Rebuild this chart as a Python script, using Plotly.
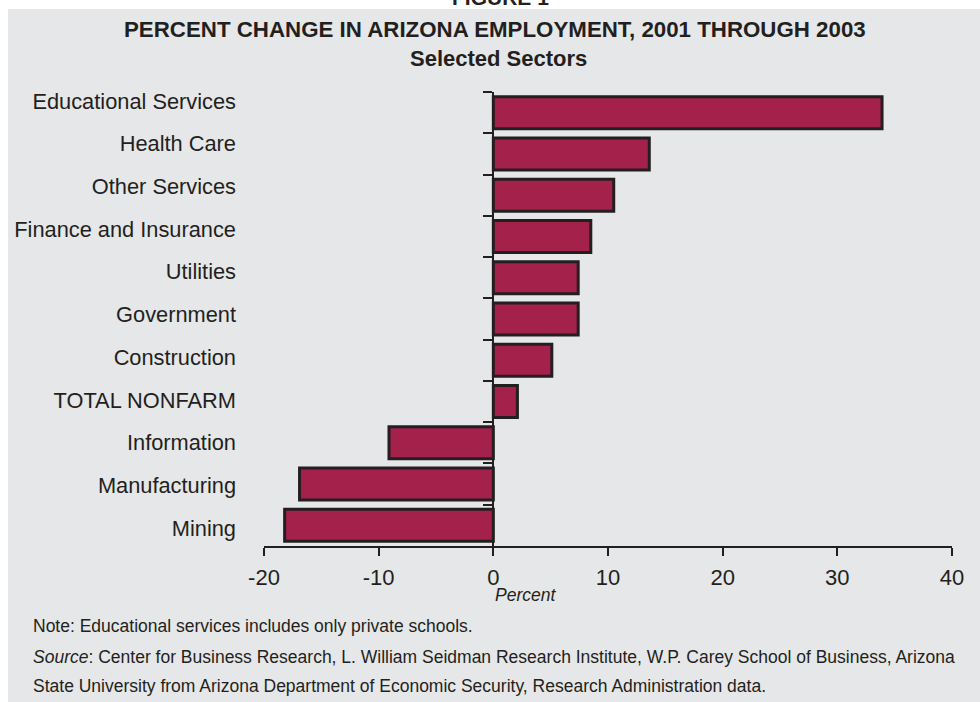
import plotly.graph_objects as go

categories = ["Educational Services", "Health Care", "Other Services", "Finance and Insurance",
              "Utilities", "Government", "Construction", "TOTAL NONFARM", "Information",
              "Manufacturing", "Mining"]
values = [33.9, 13.6, 10.5, 8.5, 7.4, 7.4, 5.1, 2.1, -9.1, -16.9, -18.2]
x_ticks = [-20, -10, 0, 10, 20, 30, 40]
x_tick_labels = ["-20", "-10", "0", "10", "20", "30", "40"]

title = "PERCENT CHANGE IN ARIZONA EMPLOYMENT, 2001 THROUGH 2003"
subtitle = "Selected Sectors"
figure_label = "FIGURE 1"
x_title = "Percent"
note = "Note: Educational services includes only private schools."
source1 = "<i>Source</i>: Center for Business Research, L. William Seidman Research Institute, W.P. Carey School of Business, Arizona"
source2 = "State University from Arizona Department of Economic Security, Research Administration data."

BAR = "#A3214B"
DARK = "#231F20"
BG = "#E6E7E8"
FONT = "Liberation Sans, Arial, sans-serif"

W, H = 980, 702
L, R, T, B = 264, 28, 92, 156
pw, ph = W - L - R, H - T - B

def px_x(px):
    return (px - L) / pw

def px_y(py):
    return (H - B - py) / ph

n = len(categories)

fig = go.Figure()
# visible bars
fig.add_trace(go.Bar(
    x=values, y=categories, orientation="h", yaxis="y",
    marker=dict(color=BAR, line=dict(color=DARK, width=3)),
    hoverinfo="x+y",
))
# invisible copies that carry the zero-line axis and the label axis
fig.add_trace(go.Bar(x=values, y=categories, orientation="h", yaxis="y2",
                     opacity=0, hoverinfo="skip"))
fig.add_trace(go.Bar(x=values, y=categories, orientation="h", yaxis="y3",
                     opacity=0, hoverinfo="skip"))

# label column in the source is spaced slightly wider than the bar rows
lab_first, lab_step = 101, 42.7
lab_range = [(H - B - lab_first) / lab_step, (T - lab_first) / lab_step]

cat_axis = dict(type="category", categoryarray=categories, showgrid=False, zeroline=False)

fig.update_layout(
    width=W, height=H,
    margin=dict(l=L, r=R, t=T, b=B, pad=0),
    paper_bgcolor="white",
    plot_bgcolor="rgba(0,0,0,0)",
    showlegend=False,
    bargap=0.225,
    font=dict(family=FONT, color=DARK),
    xaxis=dict(
        range=[x_ticks[0], x_ticks[-1]], tickvals=x_ticks, ticktext=x_tick_labels,
        ticks="outside", ticklen=8, tickwidth=2, tickcolor=DARK,
        showline=True, linewidth=2, linecolor=DARK,
        showgrid=False, zeroline=False,
        tickfont=dict(size=22, color=DARK, family=FONT),
        ticklabelstandoff=3,
    ),
    yaxis=dict(**cat_axis, range=[n - 0.5, -0.5], showticklabels=False,
               ticks="", showline=False),
    yaxis2=dict(**cat_axis,
        overlaying="y", anchor="free", position=1/3, side="left",
        range=[n - 0.5, -0.5], tickson="boundaries",
        showticklabels=False, ticks="outside", ticklen=9, tickwidth=2, tickcolor=DARK,
        showline=True, linewidth=2, linecolor=DARK,
    ),
    yaxis3=dict(**cat_axis,
        overlaying="y", anchor="x", side="left",
        range=lab_range, ticks="", showline=False,
        tickfont=dict(size=21.8, color=DARK, family=FONT),
        ticklabelstandoff=27,
    ),
    shapes=[dict(
        type="rect", xref="paper", yref="paper", layer="below",
        x0=px_x(8), x1=px_x(W + 5), y0=px_y(H + 5), y1=px_y(9),
        fillcolor=BG, line=dict(width=0),
    )],
)

ann = [
    dict(text=f"<b>{figure_label}</b>", x=px_x(500), y=px_y(-2.5), size=21),
    dict(text=f"<b>{title}</b>", x=px_x(495), y=px_y(29.5), size=22.3),
    dict(text=f"<b>{subtitle}</b>", x=px_x(498.5), y=px_y(58), size=22),
]
for a in ann:
    fig.add_annotation(text=a["text"], xref="paper", yref="paper", x=a["x"], y=a["y"],
                       xanchor="center", yanchor="middle", showarrow=False,
                       font=dict(size=a["size"], color=DARK, family=FONT))

fig.add_annotation(text=f"<i>{x_title}</i>", xref="x", yref="paper", x=0, y=px_y(595),
                   xanchor="left", yanchor="middle", showarrow=False,
                   font=dict(size=17.5, color=DARK, family=FONT))

for txt, cy in [(note, 626), (source1, 657), (source2, 686)]:
    fig.add_annotation(text=txt, xref="paper", yref="paper", x=px_x(31), y=px_y(cy),
                       xanchor="left", yanchor="middle", showarrow=False,
                       font=dict(size=17.5, color=DARK, family=FONT))

fig.write_html("out.html")
